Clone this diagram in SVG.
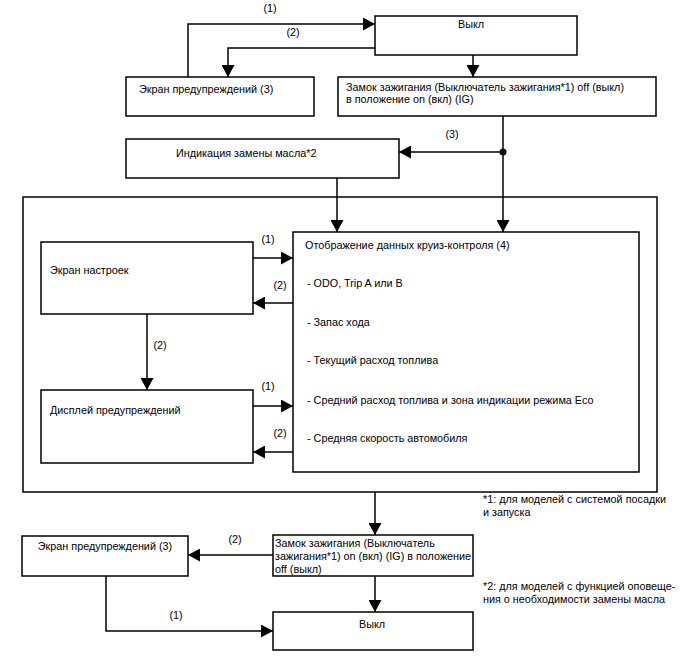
<svg xmlns="http://www.w3.org/2000/svg" width="688" height="660" viewBox="0 0 688 660">
<style>
rect.n{fill:#fff;stroke:#000;stroke-width:1.5}
text{font-family:"Liberation Sans",Arial,sans-serif;font-size:10.8px;fill:#000}
.c path,.c line{fill:none;stroke:#000;stroke-width:1.5}
</style>
<defs>
<marker id="a" markerUnits="userSpaceOnUse" markerWidth="13" markerHeight="13" refX="12" refY="6.5" orient="auto" viewBox="0 0 13 13">
<path d="M0,0 L12,6.5 L0,13 z" fill="#000"/>
</marker>
</defs>
<rect width="688" height="660" fill="#fff"/>
<g id="frame"><rect x="23" y="197" width="634" height="295" fill="none" stroke="#000" stroke-width="1.5"/></g>
<g id="off-top"><rect class="n" x="375" y="16" width="202" height="39"/><text x="471" y="28" text-anchor="middle">Выкл</text></g>
<g id="warn-top"><rect class="n" x="126" y="77" width="188" height="39"/><text x="139" y="93">Экран предупреждений (3)</text></g>
<g id="ign-on"><rect class="n" x="338" y="77" width="318" height="39"/><text x="346" y="91">Замок зажигания (Выключатель зажигания*1) off (выкл)</text><text x="346" y="103">в положение on (вкл) (IG)</text></g>
<g id="oil"><rect class="n" x="126" y="139" width="273" height="39"/><text x="176" y="157">Индикация замены масла*2</text></g>
<g id="settings"><rect class="n" x="41" y="242" width="212" height="72"/><text x="50" y="274">Экран настроек</text></g>
<g id="warn-disp"><rect class="n" x="41" y="390" width="212" height="73"/><text x="50" y="414">Дисплей предупреждений</text></g>
<g id="cruise"><rect class="n" x="293" y="232" width="346" height="240"/>
<text x="305" y="249">Отображение данных круиз-контроля (4)</text>
<text x="307" y="287">- ODO, Trip A или B</text>
<text x="307" y="326">- Запас хода</text>
<text x="307" y="364">- Текущий расход топлива</text>
<text x="307" y="404">- Средний расход топлива и зона индикации режима Eco</text>
<text x="307" y="442">- Средняя скорость автомобиля</text></g>
<g id="ign-off"><rect class="n" x="273" y="535" width="200" height="41"/><text x="275" y="547">Замок зажигания (Выключатель</text><text x="275" y="560">зажигания*1) on (вкл) (IG) в положение</text><text x="275" y="573">off (выкл)</text></g>
<g id="warn-bot"><rect class="n" x="22" y="536" width="166" height="40"/><text x="105" y="550" text-anchor="middle">Экран предупреждений (3)</text></g>
<g id="off-bot"><rect class="n" x="273" y="612" width="200" height="38"/><text x="372" y="628" text-anchor="middle">Выкл</text></g>
<g id="notes"><text x="483" y="503">*1: для моделей с системой посадки</text><text x="483" y="516">и запуска</text><text x="483" y="590">*2: для моделей с функцией оповеще-</text><text x="483" y="603">ния о необходимости замены масла</text></g>
<g class="c" id="connectors">
<path d="M188,77 V24 H375" marker-end="url(#a)"/>
<path d="M375,48 H228 V77" marker-end="url(#a)"/>
<path d="M473,55 V77" marker-end="url(#a)"/>
<path d="M503,116 V232" marker-end="url(#a)"/>
<path d="M503,152 H399" marker-end="url(#a)"/>
<circle cx="503" cy="152" r="3.5" fill="#000"/>
<path d="M337,178 V232" marker-end="url(#a)"/>
<path d="M253,258 H293" marker-end="url(#a)"/>
<path d="M293,303 H253" marker-end="url(#a)"/>
<path d="M147,314 V390" marker-end="url(#a)"/>
<path d="M253,406 H293" marker-end="url(#a)"/>
<path d="M293,452 H253" marker-end="url(#a)"/>
<path d="M375,492 V535" marker-end="url(#a)"/>
<path d="M273,555 H188" marker-end="url(#a)"/>
<path d="M375,576 V612" marker-end="url(#a)"/>
<path d="M106,576 V631 H273" marker-end="url(#a)"/>
<text x="270" y="12" text-anchor="middle">(1)</text>
<text x="293" y="36" text-anchor="middle">(2)</text>
<text x="452" y="138" text-anchor="middle">(3)</text>
<text x="268" y="243" text-anchor="middle">(1)</text>
<text x="280" y="289" text-anchor="middle">(2)</text>
<text x="160" y="349" text-anchor="middle">(2)</text>
<text x="268" y="390" text-anchor="middle">(1)</text>
<text x="280" y="437" text-anchor="middle">(2)</text>
<text x="235" y="543" text-anchor="middle">(2)</text>
<text x="176" y="619" text-anchor="middle">(1)</text>
</g>
</svg>
